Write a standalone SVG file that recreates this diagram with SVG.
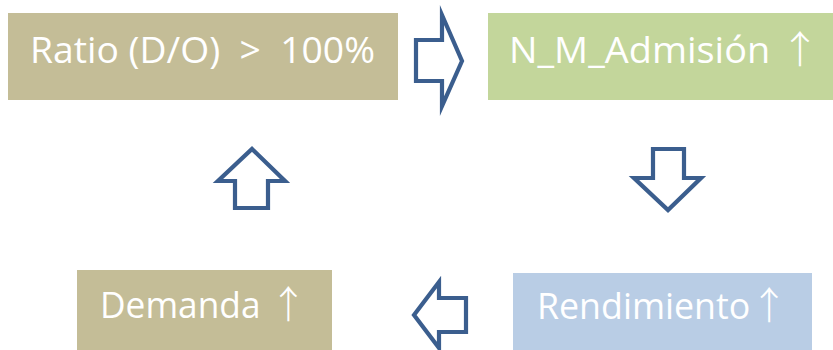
<svg xmlns="http://www.w3.org/2000/svg" width="833" height="350" viewBox="0 0 833 350">
<style>
.lbl{font-family:"Open Sans","DejaVu Sans",sans-serif;font-size:36px;fill:#ffffff;white-space:pre}
.up{font-family:"Noto Sans CJK SC","DejaVu Sans",sans-serif;font-size:38px;font-weight:300}
.arr{fill:#ffffff;stroke:#3B5E8E;stroke-width:4.2;stroke-linejoin:miter;stroke-miterlimit:10}
</style>
<rect width="833" height="350" fill="#ffffff"/>
<g id="node-ratio">
<rect x="8" y="13" width="390" height="87" fill="#C4BD97"/>
<text class="lbl" x="30" y="63" textLength="345" lengthAdjust="spacingAndGlyphs" xml:space="preserve">Ratio (D/O)  &gt;  100%</text>
</g>
<g id="node-admision">
<rect x="488" y="13" width="345" height="87" fill="#C3D69B"/>
<text class="lbl" x="509" y="63" textLength="311" lengthAdjust="spacingAndGlyphs">N_M_Admisión <tspan class="up">↑</tspan></text>
</g>
<g id="node-rendimiento">
<rect x="513" y="273" width="299" height="77" fill="#B9CDE5"/>
<text class="lbl" x="537" y="319" textLength="251" lengthAdjust="spacingAndGlyphs">Rendimiento<tspan class="up">↑</tspan></text>
</g>
<g id="node-demanda">
<rect x="77" y="270" width="255" height="80" fill="#C4BD97"/>
<text class="lbl" x="100" y="318" textLength="207" lengthAdjust="spacingAndGlyphs">Demanda <tspan class="up">↑</tspan></text>
</g>
<g id="connectors">
<path class="arr" d="M416,40 H442 V15 L462,61 L442,106 V81 H416 Z"/>
<path class="arr" d="M653,149 H684 V178 H701 L668,210 L634,178 H653 Z"/>
<path class="arr" d="M235,208 V181 H218 L252,149 L285,181 H268 V208 Z"/>
<path class="arr" d="M466,298 H439 V282 L414,315 L439,348 V332 H466 Z"/>
</g>
</svg>
